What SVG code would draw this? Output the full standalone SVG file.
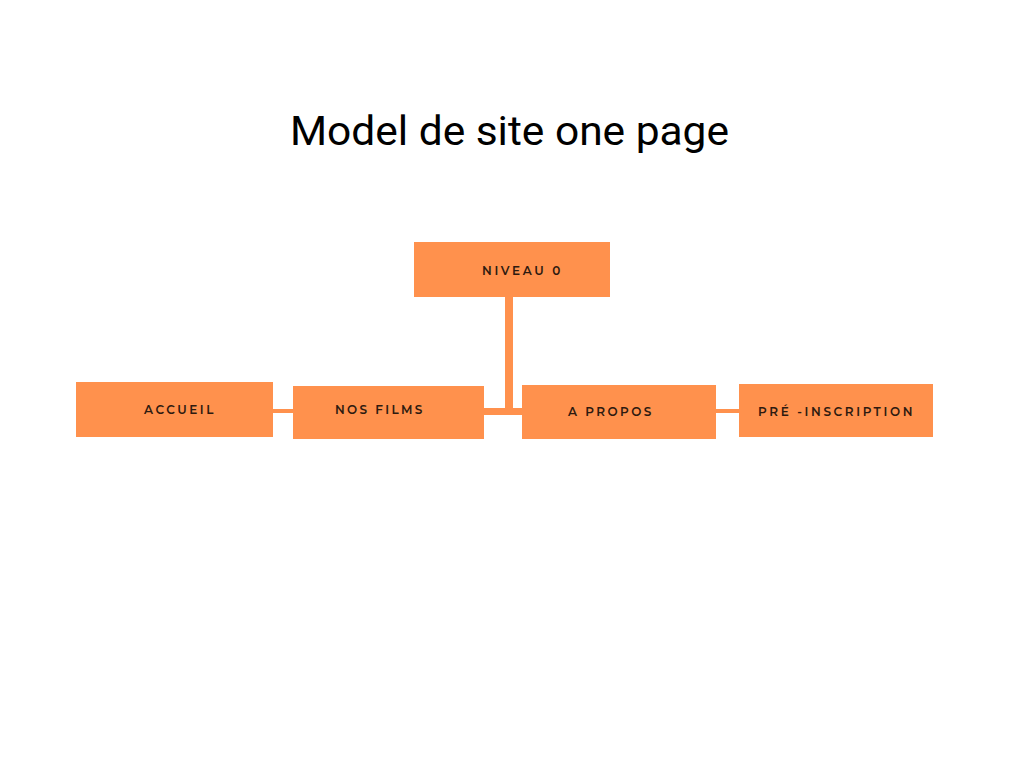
<svg xmlns="http://www.w3.org/2000/svg" width="1024" height="768" viewBox="0 0 1024 768">
<style>
.box{fill:#ff914d}
.lbl{font-family:"Montserrat","Open Sans","Liberation Sans",sans-serif;font-weight:600;font-size:12px;fill:#2e1a10;letter-spacing:2.6px}
.title{font-family:Roboto,"Liberation Sans",sans-serif;font-size:40px;fill:#000}
.con{fill:#ff914d}
</style>
<rect width="1024" height="768" fill="#fff"/>
<text class="title" x="290" y="145" textLength="439" lengthAdjust="spacingAndGlyphs">Model de site one page</text>
<g id="connectors">
<rect class="con" x="505" y="296" width="8" height="118"/>
<rect class="con" x="483" y="408" width="40" height="7"/>
<rect class="con" x="272" y="409" width="22" height="4"/>
<rect class="con" x="715" y="409" width="25" height="4"/>
</g>
<g id="niveau0"><rect class="box" x="414" y="242" width="196" height="55"/><text class="lbl" x="482" y="275" textLength="81">NIVEAU 0</text></g>
<g id="accueil"><rect class="box" x="76" y="382" width="197" height="55"/><text class="lbl" x="144" y="414" textLength="72">ACCUEIL</text></g>
<g id="nosfilms"><rect class="box" x="293" y="386" width="191" height="53"/><text class="lbl" x="335" y="414" textLength="90">NOS FILMS</text></g>
<g id="apropos"><rect class="box" x="522" y="385" width="194" height="54"/><text class="lbl" x="568" y="416" textLength="86">A PROPOS</text></g>
<g id="preinscription"><rect class="box" x="739" y="384" width="194" height="53"/><text class="lbl" x="758" y="416" textLength="157">PRÉ -INSCRIPTION</text></g>
</svg>
